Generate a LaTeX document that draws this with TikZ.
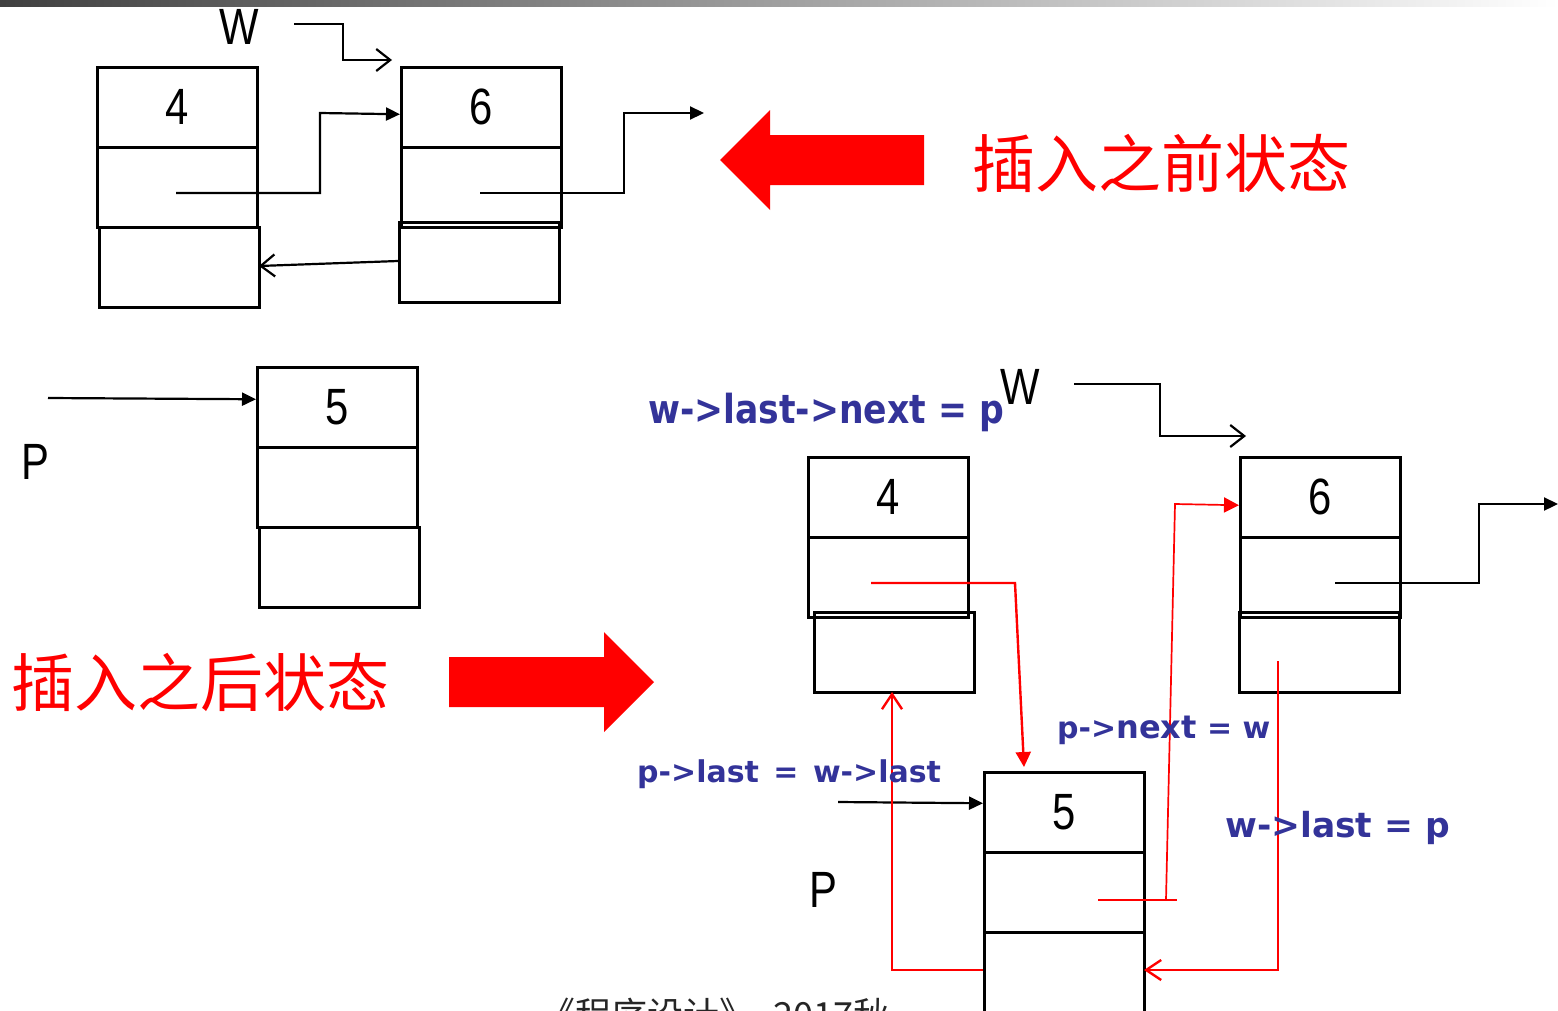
\documentclass[tikz,border=0pt]{standalone}
\usepackage{fontspec}
\usetikzlibrary{arrows.meta}
\newfontfamily\digf[FakeStretch=0.82]{Liberation Sans}
\newfontfamily\cjk{Noto Sans CJK SC}
\newfontfamily\lblf{DejaVu Sans}
\newfontfamily\toplblf[FakeStretch=0.865]{DejaVu Sans}
\definecolor{lblblue}{HTML}{333399}
\definecolor{pptred}{HTML}{FF0000}
\begin{document}
\begin{tikzpicture}[x=1pt,y=-1pt,
  cell/.style={draw, line width=2.5pt, minimum width=160pt, minimum height=80pt, inner sep=0pt, anchor=north west, font=\digf\fontsize{51}{51}\selectfont},
  blk/.style={line width=2.2pt},
  redl/.style={draw=pptred, line width=2.4pt},
  fillarr/.style={-{Triangle[length=14pt,width=13pt]}},
  openarr/.style={-{Straight Barb[length=14pt,width=22pt,line width=2.2pt]}},
  redopen/.style={-{Straight Barb[length=15pt,width=20pt,line width=2.4pt]}},
  lbl/.style={text=lblblue, font=\lblf\bfseries\fontsize{30}{30}\selectfont, inner sep=0pt, anchor=base west},
  toplbl/.style={text=lblblue, font=\toplblf\bfseries\fontsize{40}{40}\selectfont, inner sep=0pt, anchor=base west},
  bigtxt/.style={font=\digf\fontsize{51}{51}\selectfont, inner sep=0pt},
  cjktxt/.style={text=pptred, font=\cjk\fontsize{63}{63}\selectfont, inner sep=0pt}
]
\useasboundingbox (0,0) rectangle (1558,1010);
\clip (0,0) rectangle (1558,1010);
\shade[left color=black!75, right color=white] (0,0) rectangle (1558,6);

% ---------- top: before insertion ----------
\node[cell] (a4v) at (96,66) {4};
\node[cell] (a4n) at (96,146) {};
\node[cell] (a4l) at (98,226) {};
\node[cell] (a6v) at (400,66) {6};
\node[cell] (a6n) at (400,146) {};
\node[cell] (a6l) at (398,221) {};

\node[bigtxt] (aW) at (239,27) {W};
\coordinate (aWs) at (294,24);
\coordinate (aWe) at (392,60);
\draw[blk, openarr] (aWs) -- (343,24) -- (343,60) -- (aWe);

\coordinate (a4p) at (176,193);
\draw[blk, fillarr] (a4p) -- (320,193) -- (320,113) -- ([yshift=-7pt]a6v.west);
\coordinate (a6p) at (480,193);
\coordinate (a6e) at (704,113);
\draw[blk, fillarr] (a6p) -- (624,193) -- (624,113) -- (a6e);
\coordinate (a6b) at (398,261);
\draw[blk, openarr] (a6b) -- (259,266);

\fill[pptred] (720,160) -- (770,110) -- (770,135) -- (924,135) -- (924,185) -- (770,185) -- (770,210) -- cycle;
\node[cjktxt] (before) at (1161,163) {插入之前状态};

% ---------- middle: node p ----------
\node[cell] (p5v) at (256,366) {5};
\node[cell] (p5n) at (256,446) {};
\node[cell] (p5l) at (258,526) {};
\coordinate (pPs) at (48,398);
\draw[blk, fillarr] (pPs) -- ([yshift=8pt]p5v.west);
\node[bigtxt] (pP) at (35,462) {P};

\node[cjktxt] (after) at (201,682) {插入之后状态};
\fill[pptred] (654,682) -- (604,632) -- (604,657) -- (449,657) -- (449,707) -- (604,707) -- (604,732) -- cycle;

% ---------- bottom right: after insertion ----------
\node[cell] (b4v) at (807,456) {4};
\node[cell] (b4n) at (807,536) {};
\node[cell] (b4l) at (813,611) {};
\node[cell] (b6v) at (1239,456) {6};
\node[cell] (b6n) at (1239,536) {};
\node[cell] (b6l) at (1238,611) {};
\node[cell] (b5v) at (983,771) {5};
\node[cell] (b5n) at (983,851) {};
\node[cell] (b5l) at (983,931) {};

\node[bigtxt] (bW) at (1020,387) {W};
\coordinate (bWs) at (1074,384);
\coordinate (bWe) at (1246,436);
\draw[blk, openarr] (bWs) -- (1160,384) -- (1160,436) -- (bWe);

\coordinate (b6p) at (1335,583);
\coordinate (b6e) at (1558,504);
\draw[blk, fillarr] (b6p) -- (1479,583) -- (1479,504) -- (b6e);

\coordinate (bPs) at (838,802);
\draw[blk, fillarr] (bPs) -- ([yshift=9pt]b5v.west);
\node[bigtxt] (bP) at (823,890) {P};

% red links
\coordinate (r1s) at (871,583);
\coordinate (r1e) at (1024,767);
\draw[redl, -{Triangle[length=15pt,width=15pt]}] (r1s) -- (1015,583) -- (r1e);

\coordinate (r2a) at (1098,900);
\coordinate (r2b) at (1177,900);
\draw[redl] (r2a) -- (r2b);
\coordinate (r2s) at (1166,900);
\draw[redl, line width=1.7pt, -{Triangle[length=15pt,width=15pt]}] (r2s) -- (1175,504) -- ([yshift=-8pt]b6v.west);

\coordinate (r3s) at (1278,661);
\draw[redl, redopen] (r3s) -- (1278,970) -- (1144,970);

\coordinate (r4s) at (983,970);
\draw[redl, redopen] (r4s) -- (892,970) -- (892,692);

% labels
\node[toplbl] (l1) at (648,423) {w->last->next = p};
\node[lbl] (l2) at (1057,738) {p->{\fontsize{32}{32}\selectfont next} = w};
\node[lbl] (l3) at (637,782) {p->last\hspace{4pt} =\hspace{4pt} w->last};
\node[lbl, font=\lblf\bfseries\fontsize{34.5}{34.5}\selectfont] (l4) at (1225,837) {w->last = p};

\node[font=\cjk\fontsize{36}{36}\selectfont, inner sep=0pt, anchor=base west, text=black!85] (foot) at (539,1028) {《程序设计》\hspace{18pt}2017秋};
\end{tikzpicture}
\end{document}
